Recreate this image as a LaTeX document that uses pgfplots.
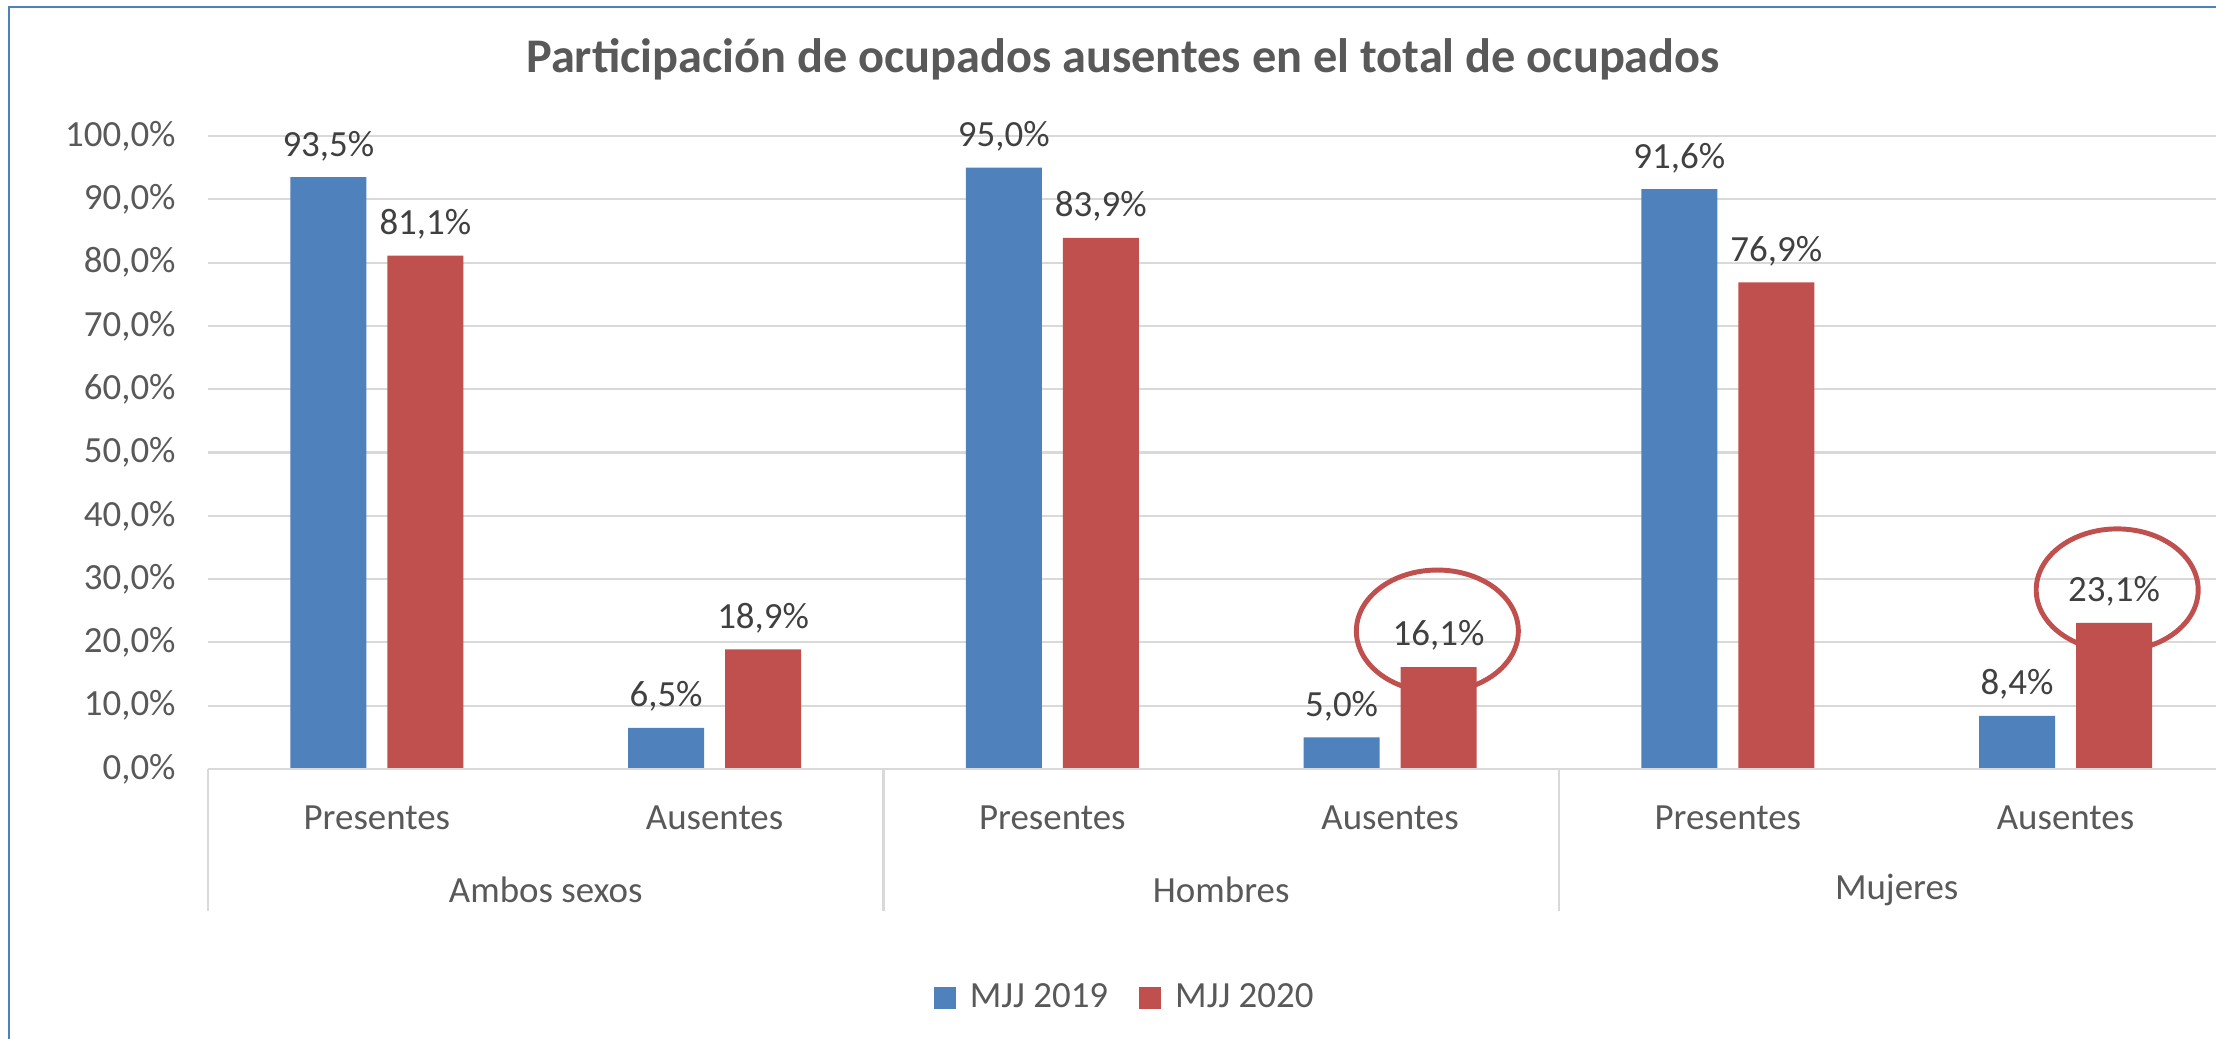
\documentclass[border=0pt]{standalone}
\usepackage{fontspec}
\setmainfont{Carlito}
\usepackage{pgfplots}
\pgfplotsset{compat=1.18}
\usepackage{pgfplotstable}

\definecolor{serieA}{HTML}{4F81BD}
\definecolor{serieB}{HTML}{C0504D}
\definecolor{rejilla}{HTML}{D9D9D9}
\definecolor{textogris}{HTML}{595959}
\definecolor{etiqueta}{HTML}{404040}

% x: 0..5 = categorias (Presentes/Ausentes por grupo)
\pgfplotstableread{
x  y2019 y2020
0  93.5  81.1
1  6.5   18.9
2  95.0  83.9
3  5.0   16.1
4  91.6  76.9
5  8.4   23.1
}\datos

\begin{document}
\begin{tikzpicture}
\clip (0,0) rectangle (22.16,10.38);
\fill[white] (0,0) rectangle (22.16,10.38);
\draw[serieA, line width=0.7pt] (0.09,-0.2) -- (0.09,10.31) -- (22.4,10.31);

\begin{axis}[
  at={(2.08cm,2.69cm)}, anchor=south west,
  x=3.3773cm, y=0.0633cm,
  xmin=-0.5, xmax=5.5, ymin=0, ymax=100,
  ybar, bar width=0.76cm,
  clip=false,
  axis line style={draw=none},
  major tick length=0,
  ytick={0,10,...,100},
  ymajorgrids, grid style={rejilla, line width=0.6pt},
  xtick={0,...,5},
  xticklabels={Presentes,Ausentes,Presentes,Ausentes,Presentes,Ausentes},
  tick label style={font=\fontsize{10.5}{12}\selectfont, text=textogris},
  xticklabel style={yshift=-0.24cm},
  yticklabel style={xshift=-0.2cm},
  /pgf/number format/assume math mode=true,
  yticklabel={\pgfmathprintnumber[fixed,fixed zerofill,precision=1,use comma]{\tick}\%},
  nodes near coords={\pgfmathprintnumber[fixed,fixed zerofill,precision=1,use comma]{\pgfplotspointmeta}\%},
  every node near coord/.append style={font=\fontsize{10.5}{12}\selectfont, text=etiqueta, yshift=0.04cm},
  legend image code/.code={\path[#1] (0cm,-0.11cm) rectangle (0.22cm,0.11cm);},
  legend style={at={(0.4536,-0.3618)}, anchor=center, draw=none, fill=none,
    legend columns=2, font=\fontsize{10.5}{12}\selectfont, text=textogris,
    /tikz/every odd column/.append style={column sep=0.07cm},
    /tikz/every even column/.append style={column sep=0.24cm}},
]
\addplot[fill=serieA, draw=none, bar shift=-0.485cm] table[x=x, y=y2019] {\datos};
\addplot[fill=serieB, draw=none, bar shift=0.485cm] table[x=x, y=y2020] {\datos};
\legend{MJJ 2019, MJJ 2020}

% eje inferior y separadores de grupos
\draw[rejilla, line width=0.6pt] (axis cs:-0.5,0) -- (axis cs:5.5,0);
\draw[rejilla, line width=0.6pt] (axis cs:-0.5,0) -- ([yshift=-1.42cm]axis cs:-0.5,0);
\draw[rejilla, line width=0.6pt] (axis cs:1.5,0) -- ([yshift=-1.42cm]axis cs:1.5,0);
\draw[rejilla, line width=0.6pt] (axis cs:3.5,0) -- ([yshift=-1.42cm]axis cs:3.5,0);
\draw[rejilla, line width=0.6pt] (axis cs:5.5,0) -- ([yshift=-1.42cm]axis cs:5.5,0);
\node[font=\fontsize{10.5}{12}\selectfont, text=textogris] at (axis cs:0.5,0) [yshift=-1.21cm] {Ambos sexos};
\node[font=\fontsize{10.5}{12}\selectfont, text=textogris] at (axis cs:2.5,0) [yshift=-1.21cm] {Hombres};
\node[font=\fontsize{10.5}{12}\selectfont, text=textogris] at (axis cs:4.5,0) [yshift=-1.21cm] {Mujeres};

% circulos de resalte
\draw[serieB, line width=1.4pt] (axis cs:3.14,21.8) ellipse [x radius=0.81cm, y radius=0.61cm];
\draw[serieB, line width=1.4pt] (axis cs:5.153,28.3) ellipse [x radius=0.81cm, y radius=0.61cm];
\end{axis}

\node[font=\fontsize{13.75}{16}\selectfont\bfseries, text=textogris] at (11.23,9.79)
  {Participación de ocupados ausentes en el total de ocupados};
\end{tikzpicture}
\end{document}
